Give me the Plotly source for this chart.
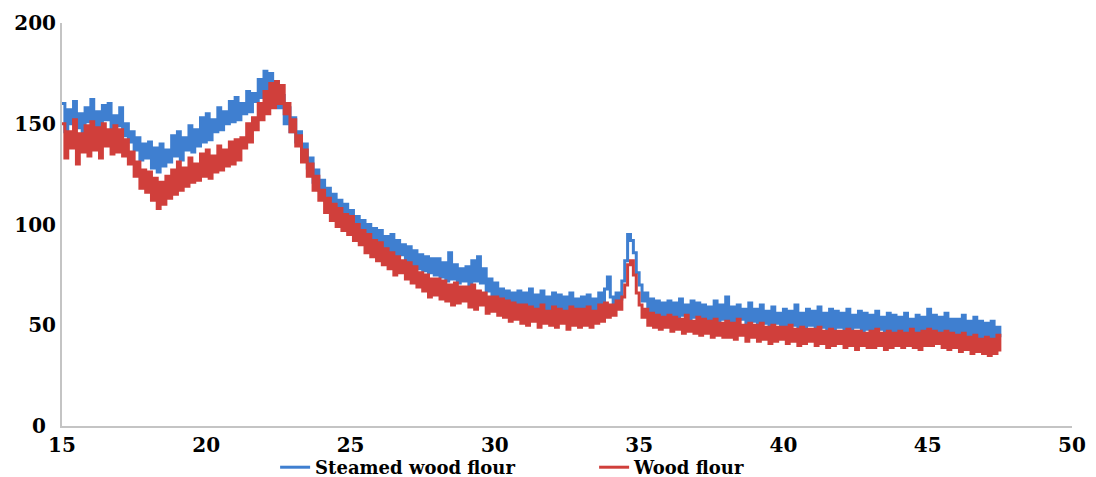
import numpy as np
import plotly.graph_objects as go

# 2-theta scan grid (degrees), 0.1 deg step from 15.0 to 47.5
two_theta_start = 15.0
two_theta_step = 0.1

steamed_wood_flour = [
    160, 146, 157, 150, 161, 148, 155, 144, 158, 151,
    162, 149, 156, 145, 159, 152, 160, 147, 154, 149,
    158, 144, 150, 141, 146, 137, 143, 132, 140, 133,
    141, 128, 138, 126, 140, 129, 137, 131, 144, 134,
    146, 132, 143, 137, 149, 136, 147, 139, 153, 141,
    155, 142, 152, 146, 158, 147, 156, 150, 161, 151,
    163, 152, 160, 155, 166, 156, 165, 161, 172, 163,
    176, 164, 175, 163, 171, 158, 164, 150, 158, 146,
    153, 141, 146, 133, 140, 128, 133, 121, 127, 117,
    122, 113, 118, 108, 115, 105, 112, 103, 110, 100,
    107, 97, 104, 95, 102, 92, 100, 91, 98, 90,
    97, 88, 94, 86, 95, 84, 92, 85, 90, 82,
    89, 80, 87, 78, 85, 77, 84, 76, 83, 75,
    83, 74, 81, 72, 86, 73, 80, 71, 78, 72,
    79, 70, 82, 72, 84, 71, 78, 67, 73, 63,
    71, 62, 68, 60, 67, 59, 66, 58, 67, 57,
    66, 58, 68, 57, 65, 59, 67, 56, 64, 58,
    66, 56, 65, 57, 64, 55, 66, 56, 63, 57,
    64, 56, 65, 57, 63, 58, 66, 59, 68, 74,
    64, 60, 66, 63, 72, 82, 95, 92, 86, 76,
    70, 62, 66, 57, 63, 56, 62, 55, 61, 54,
    62, 54, 61, 53, 63, 55, 60, 53, 62, 54,
    61, 52, 60, 53, 59, 51, 62, 52, 60, 53,
    64, 52, 59, 51, 60, 53, 58, 50, 61, 52,
    58, 50, 60, 51, 57, 49, 59, 51, 56, 50,
    58, 49, 57, 50, 60, 49, 56, 48, 58, 50,
    57, 48, 59, 49, 56, 48, 58, 47, 57, 49,
    56, 48, 58, 47, 55, 49, 57, 46, 56, 48,
    55, 47, 57, 48, 54, 46, 56, 47, 55, 47,
    54, 46, 56, 47, 53, 45, 55, 46, 54, 47,
    58, 46, 55, 47, 54, 45, 56, 46, 53, 45,
    53, 44, 55, 45, 52, 44, 54, 43, 52, 44,
    51, 43, 52, 42, 49, 44,
]

wood_flour = [
    150, 133, 146, 138, 152, 130, 145, 136, 149, 134,
    151, 137, 148, 133, 150, 139, 147, 135, 149, 136,
    147, 134, 142, 130, 136, 124, 131, 118, 127, 116,
    126, 112, 123, 108, 121, 110, 124, 113, 127, 115,
    131, 117, 128, 119, 133, 121, 130, 122, 135, 124,
    137, 123, 134, 126, 139, 127, 137, 129, 141, 130,
    142, 132, 143, 138, 150, 141, 153, 147, 160, 152,
    166, 155, 170, 158, 171, 160, 169, 155, 160, 146,
    152, 139, 144, 131, 137, 124, 130, 117, 124, 112,
    117, 106, 113, 102, 110, 99, 108, 97, 105, 95,
    104, 92, 100, 90, 97, 86, 95, 84, 92, 82,
    91, 80, 88, 78, 86, 75, 84, 76, 82, 73,
    81, 71, 79, 69, 76, 67, 75, 64, 73, 65,
    73, 63, 72, 62, 70, 60, 71, 61, 69, 62,
    69, 59, 70, 58, 67, 60, 66, 56, 64, 57,
    64, 55, 63, 54, 62, 52, 61, 53, 60, 51,
    60, 50, 59, 52, 58, 49, 60, 51, 57, 50,
    59, 49, 58, 51, 57, 48, 59, 50, 58, 49,
    58, 50, 59, 49, 57, 51, 60, 52, 61, 54,
    60, 55, 62, 58, 64, 70, 80, 82, 75, 66,
    60, 54, 58, 50, 56, 49, 55, 48, 54, 49,
    55, 47, 54, 48, 53, 46, 55, 47, 52, 46,
    54, 45, 53, 46, 52, 44, 53, 45, 51, 44,
    52, 44, 51, 43, 53, 45, 50, 42, 51, 44,
    50, 42, 51, 43, 49, 41, 50, 42, 49, 43,
    49, 41, 50, 42, 48, 40, 49, 41, 48, 42,
    48, 40, 49, 41, 47, 39, 48, 40, 47, 41,
    47, 39, 48, 40, 47, 38, 47, 40, 46, 39,
    47, 39, 48, 40, 46, 38, 47, 39, 46, 40,
    47, 39, 46, 40, 48, 39, 46, 38, 47, 40,
    48, 40, 47, 41, 46, 39, 47, 38, 46, 39,
    45, 37, 46, 38, 44, 36, 45, 37, 43, 36,
    44, 35, 43, 36, 45, 37,
]

two_theta = np.round(two_theta_start + two_theta_step * np.arange(len(steamed_wood_flour)), 2)

x_ticks = [15, 20, 25, 30, 35, 40, 45, 50]
y_ticks = [0, 50, 100, 150, 200]

series_names = ["Steamed wood flour", "Wood flour"]
series_colors = ["#3f7fd0", "#d03f3b"]

FONT = "DejaVu Serif, Liberation Serif, serif"

fig = go.Figure()
for name, vals, col in zip(series_names, [steamed_wood_flour, wood_flour], series_colors):
    fig.add_trace(go.Scatter(
        x=two_theta, y=vals, mode="lines", name=name,
        line=dict(color=col, width=3, shape="hv"),
    ))

tick_font = dict(family=FONT, size=20, color="black", weight="bold")

# the origin label "0" sits left of the others (as in the original), so draw it separately
y_ticktext = ["" if v == 0 else "<b>%d</b>" % v for v in y_ticks]
fig.add_annotation(
    xref="paper", yref="y", x=-0.0135, y=y_ticks[0], xanchor="right", yanchor="middle",
    text="<b>%d</b>" % y_ticks[0], showarrow=False, font=tick_font,
)

fig.update_layout(
    width=1088, height=469,
    margin=dict(l=54, r=24, t=15, b=51, autoexpand=False),
    paper_bgcolor="white", plot_bgcolor="white",
    font=dict(family=FONT, color="black"),
    showlegend=True,
    legend=dict(
        orientation="h", x=0.211, xanchor="left", y=-0.103, yanchor="middle",
        font=dict(family=FONT, size=18, color="black", weight="bold"),
        entrywidth=274, entrywidthmode="pixels",
        bgcolor="rgba(0,0,0,0)", tracegroupgap=0,
    ),
    xaxis=dict(
        range=[15, 50], tickvals=x_ticks, ticktext=["<b>%d</b>" % v for v in x_ticks],
        showline=True, linecolor="#c4c4c4", linewidth=2,
        showgrid=False, zeroline=False, ticks="", automargin=False,
        tickfont=tick_font,
    ),
    yaxis=dict(
        range=[0, 200], tickvals=y_ticks, ticktext=y_ticktext,
        showline=True, linecolor="#c4c4c4", linewidth=2,
        showgrid=False, zeroline=False, ticks="", automargin=False,
        tickfont=tick_font,
    ),
)

fig.write_html("out.html")
